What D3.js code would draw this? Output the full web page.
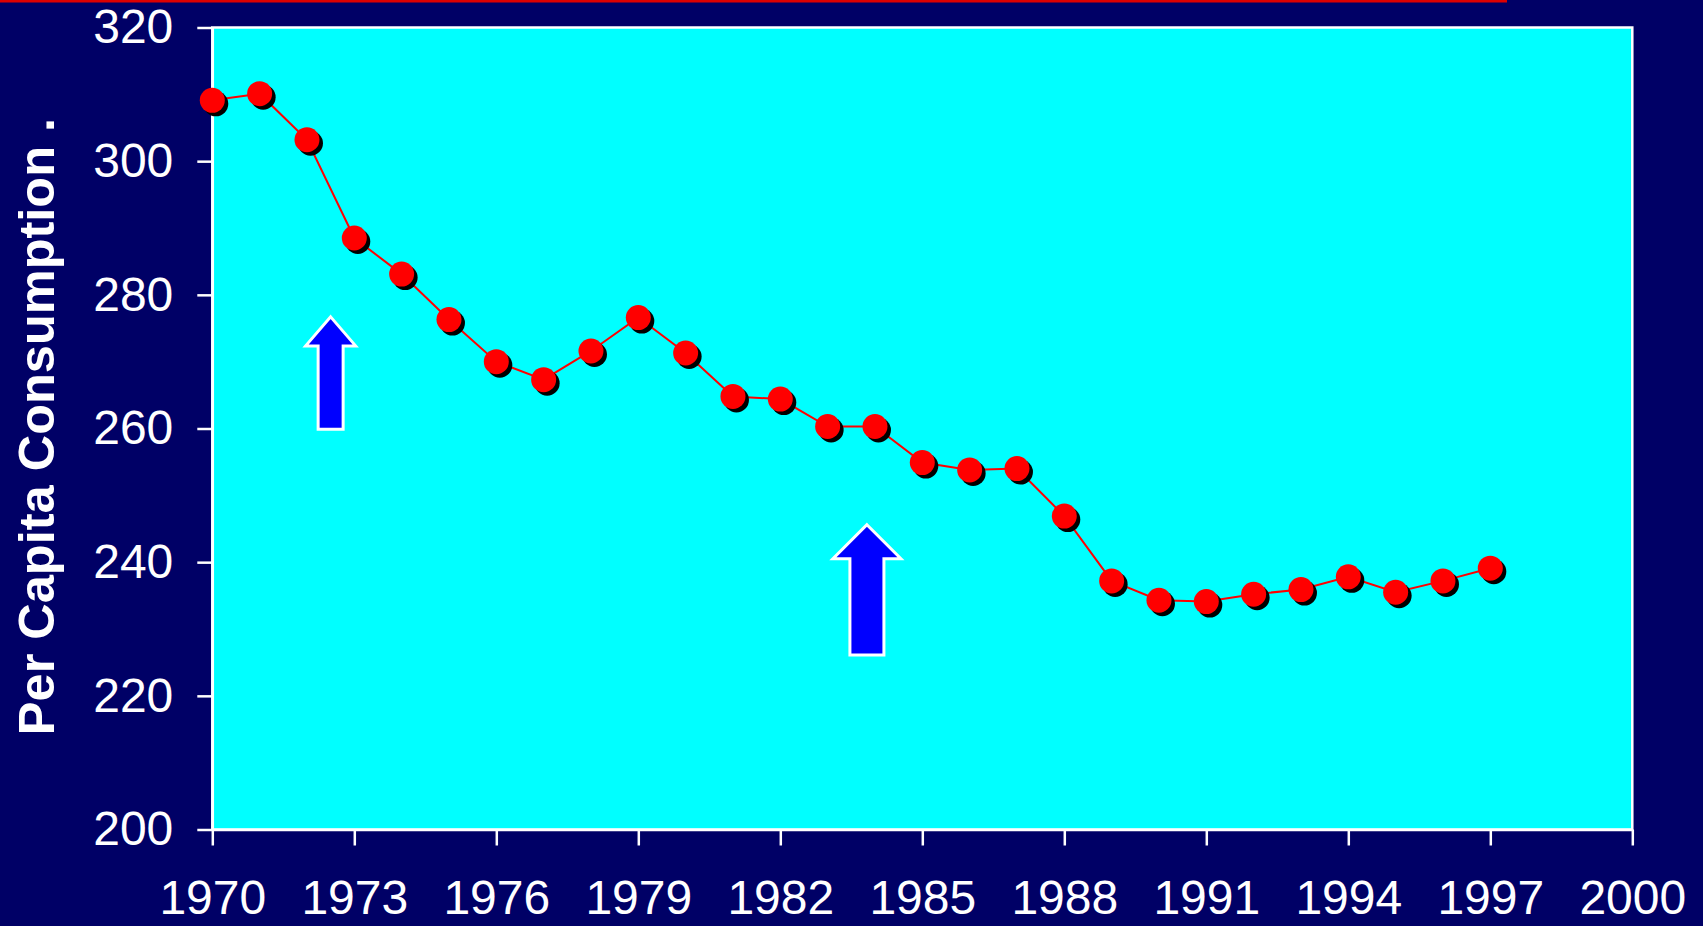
<!DOCTYPE html>
<html>
<head>
<meta charset="utf-8">
<script src="https://cdn.jsdelivr.net/npm/d3@7"></script>
<style>
  html, body { margin: 0; padding: 0; background: #000066; }
  svg { display: block; }
</style>
</head>
<body>
<svg id="chart" width="1703" height="926"></svg>
<script>
// Per capita consumption, 1970–1997
const years = [1970, 1971, 1972, 1973, 1974, 1975, 1976, 1977, 1978, 1979,
               1980, 1981, 1982, 1983, 1984, 1985, 1986, 1987, 1988, 1989,
               1990, 1991, 1992, 1993, 1994, 1995, 1996, 1997];
const consumption = [309.1, 310.1, 303.2, 288.5, 283.1, 276.3, 270.0, 267.3, 271.6, 276.6,
                     271.3, 264.8, 264.4, 260.3, 260.3, 254.9, 253.8, 254.0, 246.9, 237.2,
                     234.3, 234.1, 235.2, 235.9, 237.8, 235.5, 237.2, 239.1];

const xTicks = [1970, 1973, 1976, 1979, 1982, 1985, 1988, 1991, 1994, 1997, 2000];
const yTicks = [200, 220, 240, 260, 280, 300, 320];

// Up-arrow annotations: year position, tip value, tail value
const arrowYears = [1972.5, 1983.83];
const arrowTips  = [276.7, 245.6];
const arrowTails = [259.9, 226.1];
const arrowHeadW = [50, 68];
const arrowShaftW = [25, 34];
const arrowHeadH = [29, 34];

const yTitle = "Per Capita Consumption .";

const W = 1703, H = 926;
const margin = { top: 27.5, right: 70.7, bottom: 96.5, left: 212.3 };

const svg = d3.select("#chart");
const font = "'Liberation Sans', Arial, Helvetica, sans-serif";

// Thin red rule across the top
svg.append("rect")
  .attr("x", 0).attr("y", 0).attr("width", 1507).attr("height", 2.5)
  .attr("fill", "#dd0000");

const x = d3.scaleLinear().domain([1970, 2000]).range([margin.left, W - margin.right]);
const y = d3.scaleLinear().domain([200, 320]).range([H - margin.bottom, margin.top]);

// Plot area
svg.append("rect")
  .attr("x", x(1970)).attr("y", y(320))
  .attr("width", x(2000) - x(1970)).attr("height", y(200) - y(320))
  .attr("fill", "#00ffff")
  .attr("stroke", "#ffffff").attr("stroke-width", 2.5);

// Axes
const xAxis = d3.axisBottom(x).tickValues(xTicks).tickFormat(d3.format("d"))
  .tickSizeInner(16).tickSizeOuter(0).tickPadding(34);
const yAxis = d3.axisLeft(y).tickValues(yTicks).tickFormat(d3.format("d"))
  .tickSizeInner(15).tickSizeOuter(0).tickPadding(24);

const gx = svg.append("g").attr("transform", `translate(0,${y(200)})`).call(xAxis);
const gy = svg.append("g").attr("transform", `translate(${x(1970)},0)`).call(yAxis);

[gx, gy].forEach(g => {
  g.select(".domain").attr("stroke", "#ffffff").attr("stroke-width", 2.5);
  g.selectAll(".tick line").attr("stroke", "#ffffff").attr("stroke-width", 2.5);
  g.selectAll(".tick text")
    .attr("fill", "#ffffff")
    .attr("font-family", font)
    .attr("font-size", 48);
});

// Y axis title
svg.append("text")
  .attr("transform", `translate(54,${(117 + 736) / 2}) rotate(-90)`)
  .attr("text-anchor", "middle")
  .attr("fill", "#ffffff")
  .attr("font-family", font)
  .attr("font-weight", "bold")
  .attr("font-size", 50.5)
  .text(yTitle);

// Arrows
const arrowData = arrowYears.map((yr, i) => ({
  yr, tip: arrowTips[i], tail: arrowTails[i],
  hw: arrowHeadW[i], sw: arrowShaftW[i], hh: arrowHeadH[i]
}));
svg.append("g").selectAll("path")
  .data(arrowData)
  .join("path")
  .attr("d", d => {
    const cx = x(d.yr), ty = y(d.tip), by = y(d.tail);
    const hy = ty + d.hh;
    return `M${cx},${ty} L${cx + d.hw / 2},${hy} L${cx + d.sw / 2},${hy} ` +
           `L${cx + d.sw / 2},${by} L${cx - d.sw / 2},${by} L${cx - d.sw / 2},${hy} ` +
           `L${cx - d.hw / 2},${hy} Z`;
  })
  .attr("fill", "#0000ff")
  .attr("stroke", "#ffffff")
  .attr("stroke-width", 3)
  .attr("stroke-linejoin", "miter");

// Series line
const pts = years.map((yr, i) => ({ yr, v: consumption[i] }));
svg.append("path")
  .datum(pts)
  .attr("d", d3.line().x(d => x(d.yr)).y(d => y(d.v)))
  .attr("fill", "none")
  .attr("stroke", "#ff0000")
  .attr("stroke-width", 2);

// Marker shadows then markers
svg.append("g").selectAll("circle")
  .data(pts)
  .join("circle")
  .attr("cx", d => x(d.yr) + 3.5)
  .attr("cy", d => y(d.v) + 3.5)
  .attr("r", 12.5)
  .attr("fill", "#000000");

svg.append("g").selectAll("circle")
  .data(pts)
  .join("circle")
  .attr("cx", d => x(d.yr))
  .attr("cy", d => y(d.v))
  .attr("r", 12.5)
  .attr("fill", "#ff0000");
</script>
</body>
</html>
